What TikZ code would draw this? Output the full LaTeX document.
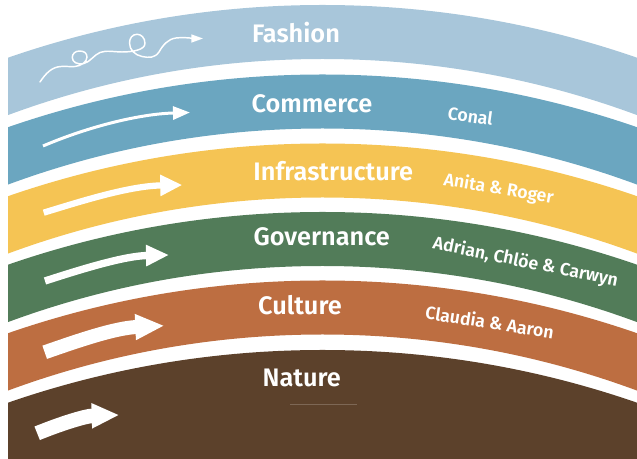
\documentclass[tikz,border=0pt]{standalone}
\usepackage{fontspec}
\setmainfont{Fira Sans}[BoldFont={Fira Sans SemiBold}]
\usetikzlibrary{arrows.meta}
\definecolor{cFashion}{RGB}{168,198,218}
\definecolor{cCommerce}{RGB}{107,166,192}
\definecolor{cInfra}{RGB}{245,196,84}
\definecolor{cGov}{RGB}{82,124,89}
\definecolor{cCulture}{RGB}{189,110,65}
\definecolor{cNature}{RGB}{92,65,43}
\begin{document}
\begin{tikzpicture}[x=0.75pt,y=-0.75pt,
  title/.style={text=white,font=\bfseries\fontsize{19}{21}\selectfont,anchor=base,inner sep=0pt},
  who/.style={text=white,font=\bfseries\fontsize{13.3}{15}\selectfont,anchor=base,inner sep=0pt},
  flow/.style={draw=white,line cap=butt},
  band/.style={even odd rule}]
\useasboundingbox (0,0) rectangle (637,459);
\begin{scope}
  \clip (8,0) rectangle (637,459);
  \fill[cFashion,band]  (322.5,965)   circle[radius=960] (322.5,965)   circle[radius=906];
  \fill[cCommerce,band] (322.5,1034.5) circle[radius=960] (322.5,1034.5) circle[radius=906];
  \fill[cInfra,band]    (322.5,1103.5) circle[radius=960] (322.5,1103.5) circle[radius=906];
  \fill[cGov,band]      (322.5,1172)  circle[radius=960] (322.5,1172)  circle[radius=906];
  \fill[cCulture,band]  (322.5,1240.5) circle[radius=960] (322.5,1240.5) circle[radius=906];
  \fill[cNature]        (322.5,1310)  circle[radius=960];
\end{scope}
% faint line in nature band
\coordinate (fl1) at (290,404);
\coordinate (fl2) at (357,404);
\draw[cNature!80!white,line width=0.3pt] (fl1) -- (fl2);
% titles
\node[title] (tFashion) at (296,42.3) {Fashion};
\node[title] (tCommerce) at (312,113) {Commerce};
\node[title] (tInfra) at (333.3,181) {Infrastructure};
\node[title] (tGov) at (321.7,245.7) {Governance};
\node[title] (tCulture) at (300,315) {Culture};
\node[title] (tNature) at (301.7,386.7) {Nature};
% people
\node[who,rotate=-8] (pConal) at (469.5,122.5) {Conal};
\node[who,rotate=-9.5] (pAnita) at (497.8,194.2) {Anita \& Roger};
\node[who,rotate=-11.5] (pAdrian) at (524.5,267.5) {Adrian, Chlöe \& Carwyn};
\node[who,rotate=-9] (pClaudia) at (488.7,329) {Claudia \& Aaron};
% squiggle arrow (fashion)
\coordinate (sq0) at (40,82);
\coordinate (sq1) at (203,38.5);
\draw[flow,line width=1.1pt,line cap=round,-{Triangle[length=8.75pt,width=6pt]}]
  (sq0) .. controls (46,73) and (52,67) .. (61,66.5)
  .. controls (66,66) and (70,67) .. (75,66.5)
  .. controls (81,66) and (87,62) .. (87,57)
  .. controls (87,53) and (84,51) .. (79.5,51)
  .. controls (75,51) and (72.3,54) .. (72.3,57.5)
  .. controls (72.3,62) and (77,65) .. (84,63.5)
  .. controls (90,62) and (94,55) .. (100,52.5)
  .. controls (106,50) and (115,52) .. (122,52)
  .. controls (132,52) and (145,50) .. (145,43.5)
  .. controls (145,37.5) and (141,34.3) .. (137,34.3)
  .. controls (132.5,34.3) and (129.5,38) .. (129.5,43)
  .. controls (129.5,50) and (135,55) .. (142,56.5)
  .. controls (149,58) and (155,58) .. (159,52)
  .. controls (163,45) and (168,39) .. (176,38)
  .. controls (185,37) and (195,38.5) .. (sq1);
% commerce arrow
\coordinate (co0) at (43,146);
\coordinate (co1) at (190,112.5);
\draw[flow,line width=2.25pt,-{Triangle[length=12.75pt,width=9.75pt]}]
  (co0) .. controls (90,126) and (140,114) .. (co1);
% infrastructure arrow
\coordinate (in0) at (43.7,212.7);
\coordinate (in1) at (182.3,185);
\draw[flow,line width=4.7pt,-{Triangle[length=16.5pt,width=15pt]}]
  (in0) .. controls (85,200) and (130,186) .. (in1);
% governance arrow
\coordinate (go0) at (45,281);
\coordinate (go1) at (169,255);
\draw[flow,line width=5.5pt,-{Triangle[length=17.25pt,width=15pt]}]
  (go0) .. controls (85,268) and (125,256) .. (go1);
% culture arrow
\coordinate (cu0) at (44.7,352.3);
\coordinate (cu1) at (164.3,325.7);
\draw[flow,line width=10.5pt,-{Triangle[length=21.75pt,width=18pt]}]
  (cu0) .. controls (80,340) and (115,328) .. (cu1);
% nature arrow
\coordinate (na0) at (37.2,433.3);
\coordinate (na1) at (119.3,415);
\draw[flow,line width=10.9pt,-{Triangle[length=20.7pt,width=17.5pt]}]
  (na0) .. controls (60,424) and (85,416) .. (na1);
\end{tikzpicture}
\end{document}
